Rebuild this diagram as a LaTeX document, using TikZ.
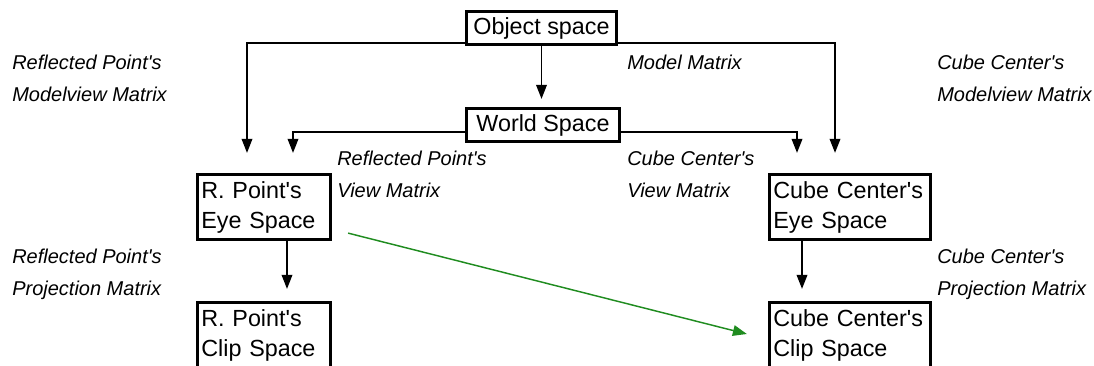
\documentclass[tikz,border=0pt]{standalone}
\usepackage{fontspec}
\setmainfont{Liberation Sans}
\usetikzlibrary{calc}
\usetikzlibrary{arrows.meta}
\newcommand{\apos}{\textquotesingle}
\tikzset{
 space/.style={draw, line width=2.2pt, inner sep=3pt, font=\fontsize{17.5}{22.5}\selectfont},
 pair/.style={space, align=left, minimum height=49pt},
 mat/.style={anchor=north west, inner sep=0, align=left, font=\itshape\fontsize{15}{24}\selectfont},
 flow/.style={line width=1.1pt, -{Triangle[width=8pt,length=10.5pt]}},
}
\definecolor{arrowgreen}{RGB}{32,140,32}
\begin{document}
\begin{tikzpicture}[x=0.75pt,y=-0.75pt]
\useasboundingbox (0,0) rectangle (1094,366);
\clip (0,0) rectangle (1094,366);
% spaces
\node[space, minimum width=113pt, minimum height=25pt] (obj) at (541.5,28) {Object space};
\node[space, minimum width=115pt, minimum height=25pt] (world) at (543,125) {World Space};
\node[pair, text width=94pt] (reye) at (264,207) {R. Point\apos s\\Eye Space};
\node[pair, text width=115pt] (ceye) at (850,207) {Cube Center\apos s\\Eye Space};
\node[pair, text width=94pt] (rclip) at (264,335) {R. Point\apos s\\Clip Space};
\node[pair, text width=115pt] (cclip) at (850,335) {Cube Center\apos s\\Clip Space};
% matrices
\node[mat] (rmv) at (12,55) {Reflected Point\apos s\\Modelview Matrix};
\node[mat] (model) at (627,55) {Model Matrix};
\node[mat] (cmv) at (937,55) {Cube Center\apos s\\Modelview Matrix};
\node[mat] (rview) at (337,151) {Reflected Point\apos s\\View Matrix};
\node[mat] (cview) at (627,151) {Cube Center\apos s\\View Matrix};
\node[mat] (rproj) at (12,249) {Reflected Point\apos s\\Projection Matrix};
\node[mat] (cproj) at (937,249) {Cube Center\apos s\\Projection Matrix};
% connectors
\draw[flow] (obj.south west)++(0,-3) -| ($(reye.north)+(-17,-20)$);
\draw[flow] (obj.south east)++(0,-3) -| ($(ceye.north)+(-15,-20)$);
\draw[flow, shorten >=6pt] (obj) -- (obj|-world.north);
\draw[flow] (world.south west)++(0,-11) -| ($(reye.north)+(29,-20)$);
\draw[flow] (world.south east)++(0,-11) -| ($(ceye.north)+(-53,-20)$);
\draw[flow] ($(reye.south)+(23,0)$) -- ($(rclip.north)+(23,-12)$);
\draw[flow] ($(ceye.south)+(-48,0)$) -- ($(cclip.north)+(-48,-12)$);
\draw[flow, arrowgreen] ($(reye.south east)+(16,-8)$) -- ($(cclip.west)+(-21,-1)$);
\end{tikzpicture}
\end{document}
